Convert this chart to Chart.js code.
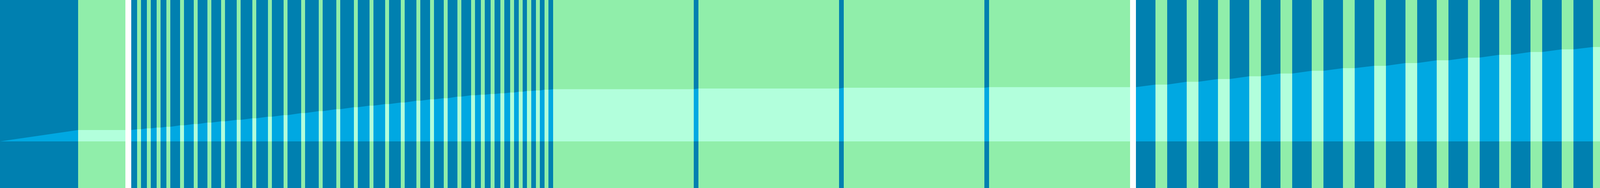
<!DOCTYPE html>
<html>
<head>
<meta charset="utf-8">
<script src="https://cdn.jsdelivr.net/npm/chart.js@4.4.1/dist/chart.umd.min.js"></script>
<style>
  html, body { margin: 0; padding: 0; background: #fff; overflow: hidden; }
  #wrap { width: 4109px; height: 480px; }
</style>
</head>
<body>
<div id="wrap"><canvas id="chart" width="4109" height="480"></canvas></div>
<script>
// spans along x, [start, end]
const blueSpans = [
  [0, 200], [336, 351], [361, 376], [386, 401], [411, 426], [436, 461], [471, 496],
  [506, 531], [541, 566], [576, 606], [616, 646], [656, 686], [696, 726], [736, 771],
  [781, 816], [826, 861], [871, 906], [916, 946], [956, 986], [996, 1026], [1036, 1066],
  [1076, 1101], [1111, 1136], [1146, 1171], [1181, 1206], [1216, 1231], [1241, 1256],
  [1266, 1281], [1291, 1306], [1316, 1328], [1338, 1349], [1360, 1372], [1382, 1394],
  [1404, 1416], [1776, 1788], [2148, 2160], [2520, 2532], [2908, 2958], [2988, 3038],
  [3068, 3118], [3148, 3198], [3228, 3278], [3308, 3358], [3388, 3438], [3468, 3518],
  [3548, 3598], [3628, 3678], [3708, 3758], [3788, 3838], [3868, 3918], [3948, 3998],
  [4028, 4078]
];
const greenSpans = [
  [200, 321], [351, 361], [376, 386], [401, 411], [426, 436], [461, 471], [496, 506],
  [531, 541], [566, 576], [606, 616], [646, 656], [686, 696], [726, 736], [771, 781],
  [816, 826], [861, 871], [906, 916], [946, 956], [986, 996], [1026, 1036], [1066, 1076],
  [1101, 1111], [1136, 1146], [1171, 1181], [1206, 1216], [1231, 1241], [1256, 1266],
  [1281, 1291], [1306, 1316], [1328, 1338], [1349, 1360], [1372, 1382], [1394, 1404],
  [1416, 1776], [1788, 2148], [2160, 2520], [2532, 2893], [2958, 2988], [3038, 3068],
  [3118, 3148], [3198, 3228], [3278, 3308], [3358, 3388], [3438, 3468], [3518, 3548],
  [3598, 3628], [3678, 3708], [3758, 3788], [3838, 3868], [3918, 3948], [3998, 4028],
  [4078, 4109]
];
// band height over each green span
const greenLevels = [
  29, 31, 33.3, 35.3, 37.3, 41, 44.3,
  48, 51.3, 55, 59, 63, 67, 72.3,
  77.3, 82.3, 87.3, 91.3, 95.3, 99.3, 103.7,
  107.3, 110.3, 114.3, 117.7, 119.3, 121,
  122.7, 124.7, 126.7, 128.7, 130, 132,
  133.3, 135, 137, 138.5, 145, 152.3,
  159.3, 166.3, 173.3, 180.3, 187, 193,
  200, 207, 214, 221, 228.3, 235,
  241
];

const X_MAX = 4109;
const V_MIN = -119, V_MAX = 361;

const DARK_BLUE = '#0080b0';
const LIGHT_BLUE = '#00a8e2';
const GREEN = '#90eeaa';
const LIGHT_GREEN = '#b2ffdc';

// band outline: rises over blue spans, flat over green ones, broken at the white gaps
function bandPoints() {
  const segs = blueSpans.map(s => ({ s, kind: 'blue' }))
    .concat(greenSpans.map((s, i) => ({ s, kind: 'green', level: greenLevels[i] })))
    .sort((a, b) => a.s[0] - b.s[0]);
  const pts = [];
  let prevEnd = null;
  segs.forEach((seg, i) => {
    if (prevEnd !== null && seg.s[0] > prevEnd) {
      pts.push({ x: (prevEnd + seg.s[0]) / 2, y: null });
    }
    let left, right;
    if (seg.kind === 'green') {
      left = right = seg.level;
    } else {
      const before = segs.slice(0, i).reverse().find(d => d.kind === 'green');
      const after = segs.slice(i + 1).find(d => d.kind === 'green');
      left = before ? before.level : 0;
      right = after ? after.level : left;
    }
    pts.push({ x: seg.s[0], y: left }, { x: seg.s[1], y: right });
    prevEnd = seg.s[1];
  });
  return pts;
}

// flat pieces of the band, only over green spans
function greenBandPoints() {
  const pts = [];
  greenSpans.forEach((s, i) => {
    pts.push({ x: s[0], y: greenLevels[i] }, { x: s[1], y: greenLevels[i] }, { x: s[1], y: null });
  });
  return pts;
}

const stripe = (spans, color, order) => ({
  type: 'bar',
  indexAxis: 'y',
  xAxisID: 'x',
  yAxisID: 'row',
  data: spans.map(s => ({ x: s, y: 'row' })),
  backgroundColor: color,
  borderWidth: 0,
  grouped: false,
  barPercentage: 1,
  categoryPercentage: 1,
  inflateAmount: 0,
  order
});

const band = (points, color, order) => ({
  type: 'line',
  indexAxis: 'x',
  xAxisID: 'x',
  yAxisID: 'v',
  data: points,
  backgroundColor: color,
  borderColor: 'rgba(0,0,0,0)',
  borderWidth: 0,
  pointRadius: 0,
  tension: 0,
  spanGaps: false,
  fill: 'origin',
  order
});

new Chart(document.getElementById('chart'), {
  type: 'bar',
  data: {
    labels: ['row'],
    datasets: [
      stripe(blueSpans, DARK_BLUE, 4),
      band(bandPoints(), LIGHT_BLUE, 3),
      stripe(greenSpans, GREEN, 2),
      band(greenBandPoints(), LIGHT_GREEN, 1)
    ]
  },
  options: {
    responsive: false,
    animation: false,
    devicePixelRatio: 1,
    layout: { padding: 0 },
    plugins: {
      legend: { display: false },
      tooltip: { enabled: false }
    },
    scales: {
      // offset off, otherwise the bar defaults pad the x range
      x: { type: 'linear', min: 0, max: X_MAX, offset: false, display: false },
      row: { type: 'category', axis: 'y', labels: ['row'], offset: true, display: false },
      v: { type: 'linear', axis: 'y', min: V_MIN, max: V_MAX, offset: false, display: false }
    }
  }
});
</script>
</body>
</html>
